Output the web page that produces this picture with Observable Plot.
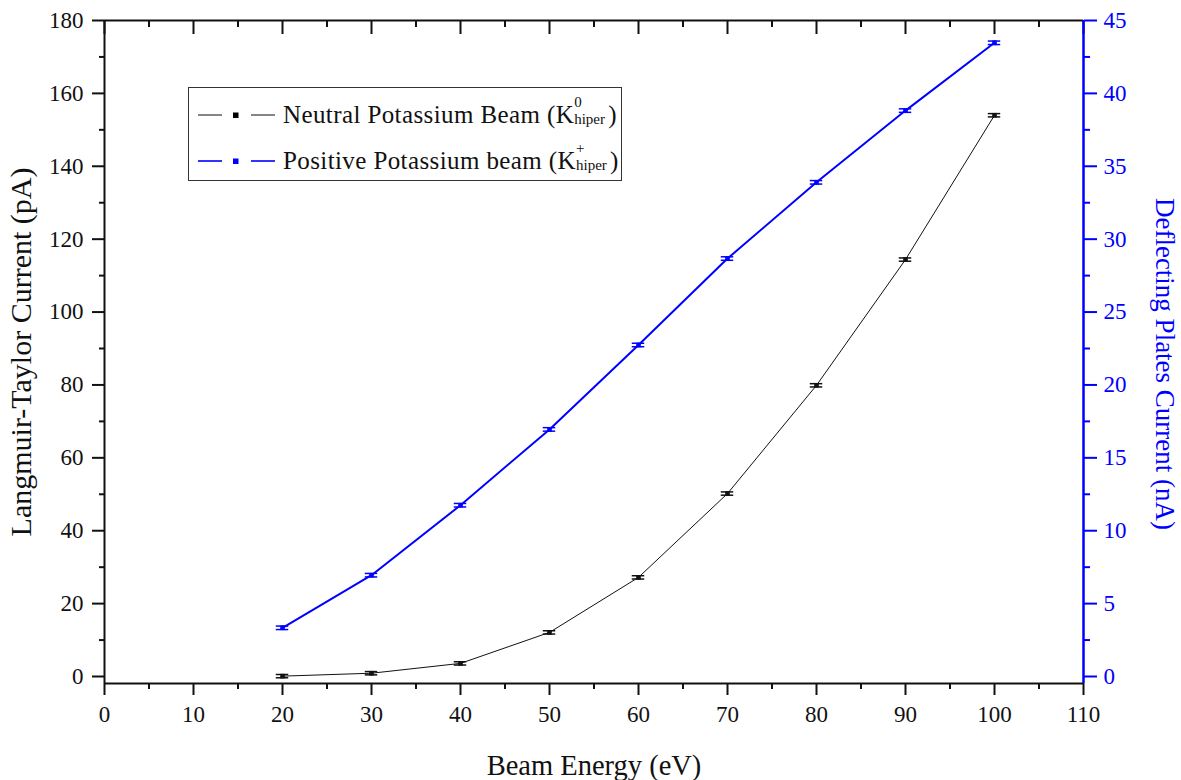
<!DOCTYPE html>
<html>
<head>
<meta charset="utf-8">
<script src="https://cdn.jsdelivr.net/npm/d3@7"></script>
<script src="https://cdn.jsdelivr.net/npm/@observablehq/plot@0.6"></script>
<style>
  body { margin: 0; background: white; }
  #wrap { position: relative; width: 1181px; height: 780px; }
  #wrap svg text { font-family: "Liberation Serif", serif; }
  #legend {
    position: absolute; left: 188px; top: 87px; width: 434px; height: 94px;
    border: 1.5px solid #333; background: white; box-sizing: border-box;
    font-family: "Liberation Serif", serif; font-size: 25px; letter-spacing: 0.4px; color: #111;
  }
  .row { position: absolute; left: 9px; height: 30px; line-height: 30px; white-space: nowrap; }
  .row svg { position: absolute; left: 0; top: 9px; }
  .row .txt { position: absolute; left: 85px; top: 0; }
  .ss { display: inline-block; position: relative; width: 34px; height: 10px; letter-spacing: 0; }
  .ss span { position: absolute; left: 0; font-size: 15px; line-height: 15px; }
  .ss .sup { bottom: 13px; }
  .ss .sub { bottom: -4px; }
</style>
</head>
<body>
<div id="wrap"></div>
<script>
// ---- data ----
const energy = [20, 30, 40, 50, 60, 70, 80, 90, 100];          // eV
const neutralPA = [0.1, 0.9, 3.6, 12.1, 27.2, 50.2, 79.9, 114.4, 154.0];  // pA (left axis)
const neutralErr = [0.45, 0.45, 0.45, 0.45, 0.45, 0.45, 0.45, 0.45, 0.45];
const positiveNA = [3.34, 6.95, 11.75, 16.95, 22.74, 28.67, 33.9, 38.82, 43.47]; // nA (right axis)
const positiveErr = [0.12, 0.12, 0.12, 0.12, 0.12, 0.12, 0.12, 0.12, 0.12];
const seriesNames = ["Neutral Potassium Beam", "Positive Potassium beam"];

const xMajor = [0, 10, 20, 30, 40, 50, 60, 70, 80, 90, 100, 110];
const xMinor = [5, 15, 25, 35, 45, 55, 65, 75, 85, 95, 105];
const leftMajor = [0, 20, 40, 60, 80, 100, 120, 140, 160, 180];
const leftMinor = [10, 30, 50, 70, 90, 110, 130, 150, 170];
const rightMajor = [0, 5, 10, 15, 20, 25, 30, 35, 40, 45];
const rightMinor = [2.5, 7.5, 12.5, 17.5, 22.5, 27.5, 32.5, 37.5, 42.5];
const ratio = 4; // pA per nA on shared vertical scale (180 pA <-> 45 nA)

const neutral = energy.map((e, i) => ({x: e, y: neutralPA[i], err: neutralErr[i]}));
const positive = energy.map((e, i) => ({x: e, y: positiveNA[i] * ratio, err: positiveErr[i] * ratio}));
const capHalf = 0.7;

function errorMarks(data, color, w) {
  return [
    Plot.ruleX(data, {x: "x", y1: d => d.y - d.err, y2: d => d.y + d.err, stroke: color, strokeWidth: w}),
    Plot.ruleY(data, {y: d => d.y - d.err, x1: d => d.x - capHalf, x2: d => d.x + capHalf, stroke: color, strokeWidth: w}),
    Plot.ruleY(data, {y: d => d.y + d.err, x1: d => d.x - capHalf, x2: d => d.x + capHalf, stroke: color, strokeWidth: w})
  ];
}

const empty = () => "";
const chart = Plot.plot({
  width: 1181, height: 780,
  marginLeft: 104, marginRight: 98, marginTop: 20, marginBottom: 97,
  x: {domain: [0, 110]},
  y: {domain: [-1.92, 180]},
  style: {fontFamily: "'Liberation Serif', serif", fontSize: "23px", background: "white", color: "#111", overflow: "visible"},
  marks: [
    // bottom axis
    Plot.axisX({ticks: xMajor, tickSize: 12, tickPadding: 10, strokeWidth: 2, label: null}),
    Plot.axisX({ticks: xMinor, tickSize: 6, strokeWidth: 2, tickFormat: empty, label: null}),
    // top axis (inward ticks)
    Plot.axisX({anchor: "top", ticks: xMajor, tickSize: -13, strokeWidth: 2, tickFormat: empty, label: null}),
    Plot.axisX({anchor: "top", ticks: xMinor, tickSize: -6, strokeWidth: 2, tickFormat: empty, label: null}),
    // left axis
    Plot.axisY({ticks: leftMajor, tickSize: 12, tickPadding: 9, strokeWidth: 2, label: null}),
    Plot.axisY({ticks: leftMinor, tickSize: 5, strokeWidth: 2, tickFormat: empty, label: null}),
    // right axis (nA)
    Plot.axisY({anchor: "right", ticks: rightMajor.map(v => v * ratio), tickFormat: d => d / ratio, tickSize: 13, tickPadding: 7, strokeWidth: 2, color: "#0000ff", label: null}),
    Plot.axisY({anchor: "right", ticks: rightMinor.map(v => v * ratio), tickFormat: empty, tickSize: 6, strokeWidth: 2, color: "#0000ff", label: null}),
    // frame
    Plot.ruleY([-1.92], {stroke: "#111", strokeWidth: 2}),
    Plot.ruleY([180], {stroke: "#111", strokeWidth: 2}),
    Plot.ruleX([0], {stroke: "#111", strokeWidth: 2}),
    Plot.ruleX([110], {stroke: "#0000ff", strokeWidth: 2.5}),
    // series
    Plot.line(neutral, {x: "x", y: "y", stroke: "#111", strokeWidth: 1}),
    ...errorMarks(neutral, "#111", 1.5),
    Plot.dot(neutral, {x: "x", y: "y", symbol: "square", r: 2.6, fill: "#111"}),
    Plot.line(positive, {x: "x", y: "y", stroke: "#0000ff", strokeWidth: 2}),
    ...errorMarks(positive, "#0000ff", 1.5),
    Plot.dot(positive, {x: "x", y: "y", symbol: "square", r: 2.6, fill: "#0000ff"}),
    // axis titles
    Plot.text(["Beam Energy (eV)"], {frameAnchor: "bottom", textAnchor: "middle", lineAnchor: "bottom", dy: 91, fontSize: 28.5, fill: "#111"}),
    Plot.text(["Langmuir-Taylor Current (pA)"], {frameAnchor: "left", textAnchor: "middle", lineAnchor: "middle", dx: -83, dy: 0, rotate: -90, fontSize: 30, fill: "#111"}),
    Plot.text(["Deflecting Plates Current (nA)"], {frameAnchor: "right", textAnchor: "middle", lineAnchor: "middle", dx: 81, dy: 12, rotate: 90, fontSize: 27, fill: "#0000ff"})
  ]
});

const wrap = document.getElementById("wrap");
wrap.appendChild(chart);

// legend
function glyph(lineColor, markColor, w) {
  return `<svg width="78" height="12"><line x1="0" y1="6" x2="24" y2="6" stroke="${lineColor}" stroke-width="${w}"/>` +
    `<rect x="35" y="3.5" width="5.5" height="5.5" fill="${markColor}"/>` +
    `<line x1="53" y1="6" x2="77" y2="6" stroke="${lineColor}" stroke-width="${w}"/></svg>`;
}
const legend = document.createElement("div");
legend.id = "legend";
legend.innerHTML =
  `<div class="row" style="top:12px">${glyph("#333", "#000", 1.2)}<span class="txt">${seriesNames[0]} (K<span class="ss"><span class="sup">0</span><span class="sub">hiper</span></span>)</span></div>` +
  `<div class="row" style="top:58px">${glyph("#0000ff", "#0000ff", 1.6)}<span class="txt">${seriesNames[1]} (K<span class="ss"><span class="sup">+</span><span class="sub">hiper</span></span>)</span></div>`;
wrap.appendChild(legend);
</script>
</body>
</html>
